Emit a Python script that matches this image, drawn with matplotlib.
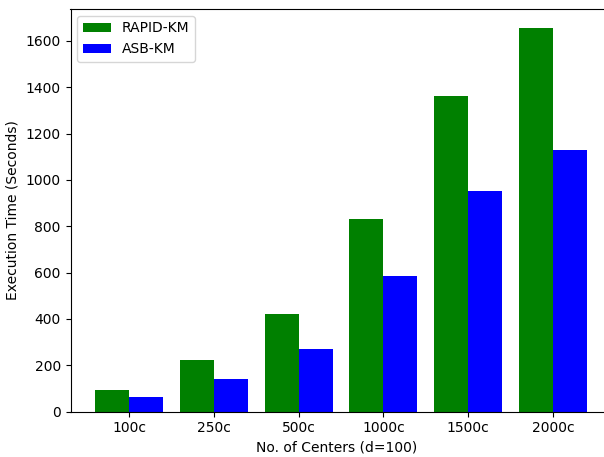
import matplotlib
matplotlib.use("Agg")
import matplotlib.pyplot as plt
import numpy as np

categories = ["100c", "250c", "500c", "1000c", "1500c", "2000c"]
rapid_km = [93, 222, 420, 830, 1360, 1655]
asb_km = [62, 140, 270, 585, 950, 1130]

fig = plt.figure(figsize=(6.04, 4.57), dpi=100)
ax = fig.add_axes([70.5/604, 1 - 411.5/457, (603-70.5)/604, (411.5-9)/457])
x = np.arange(len(categories))
w = 0.4
ax.bar(x - w/2, rapid_km, w, color="green", label="RAPID-KM")
ax.bar(x + w/2, asb_km, w, color="blue", label="ASB-KM")
ax.set_xticks(x)
ax.set_xticklabels(categories)
ax.set_xlim(-0.69, 5.59)
ax.set_xlabel("No. of Centers (d=100)")
ax.set_ylabel("Execution Time (Seconds)")
ax.spines["right"].set_visible(False)
ax.legend(loc="upper left")
fig.savefig("out.png", dpi=100)
